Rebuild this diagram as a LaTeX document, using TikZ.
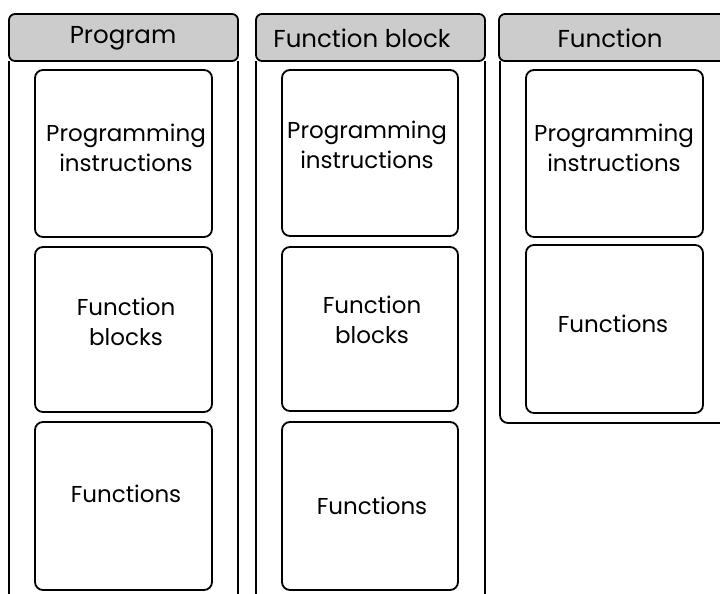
\documentclass[tikz,border=0pt]{standalone}
\usepackage{fontspec}
\setmainfont{Poppins}
\definecolor{hdrgray}{RGB}{204,204,204}
\begin{document}
\begin{tikzpicture}[x=1pt,y=-1pt,line width=1.8pt,
  hdr/.style={draw,fill=hdrgray,rounded corners=6pt},
  inbox/.style={draw,rounded corners=8pt},
  lbl/.style={font=\fontsize{23}{30}\selectfont,align=center,inner sep=0pt},
  hlbl/.style={font=\fontsize{24.5}{28}\selectfont,inner sep=0pt}]
\useasboundingbox (0,0) rectangle (720,594);
\clip (0,0) rectangle (720,594);
% column 1: Program
\draw (9,61) -- (9,600);
\draw (238,61) -- (238,600);
\draw[hdr] (9,14) rectangle (238,61);
\node[hlbl] (h1) at (123,38) {Program};
\draw[inbox] (35,70) rectangle (212,237);
\draw[inbox] (35,247) rectangle (212,412);
\draw[inbox] (35,422) rectangle (212,590);
\node[lbl] (p1) at (126,148) {Programming\\instructions};
\node[lbl] (p2) at (126,322) {Function\\blocks};
\node[lbl] (p3) at (126,494) {Functions};
% column 2: Function block
\draw (256,61) -- (256,600);
\draw (485,61) -- (485,600);
\draw[hdr] (256,14) rectangle (485,61);
\node[hlbl] (h2) at (362,38) {Function block};
\draw[inbox] (282,70) rectangle (458,236);
\draw[inbox] (282,247) rectangle (458,411);
\draw[inbox] (282,422) rectangle (458,590);
\node[lbl] (b1) at (367,145) {Programming\\instructions};
\node[lbl] (b2) at (372,320) {Function\\blocks};
\node[lbl] (b3) at (372,506) {Functions};
% column 3: Function
\draw[rounded corners=8pt] (500,61) -- (500,423) -- (740,423);
\draw[hdr] (499,14) rectangle (740,61);
\node[hlbl] (h3) at (610,38) {Function};
\draw[inbox] (526,70) rectangle (703,237);
\draw[inbox] (526,245) rectangle (703,413);
\node[lbl] (f1) at (614,148) {Programming\\instructions};
\node[lbl] (f2) at (613,324) {Functions};
\end{tikzpicture}
\end{document}
